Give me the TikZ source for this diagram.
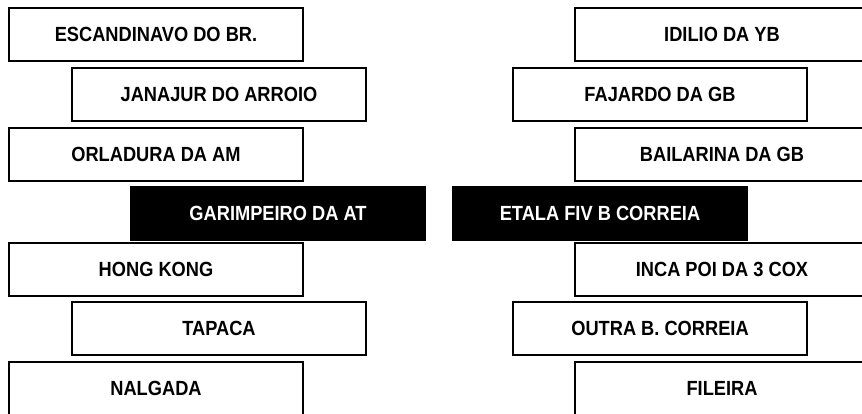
\documentclass[tikz,border=0pt]{standalone}
\usepackage{fontspec}
\setmainfont{Liberation Sans}
\newfontfamily\boxfont[FakeStretch=0.89]{Liberation Sans}
\begin{document}
\begin{tikzpicture}[x=1pt,y=-1pt,
  wbox/.style={draw=black,line width=1.5pt,fill=white,anchor=north west,
    minimum width=294pt,minimum height=53pt,inner sep=0pt,outer sep=0pt,
    font=\boxfont\fontsize{20.5}{23}\selectfont\bfseries,text=black},
  bbox/.style={wbox,fill=black,text=white}]
\useasboundingbox (0,0) rectangle (862,413);
\clip (0,0) rectangle (862,413);
% left column
\node[wbox] (esc) at (9,8) {ESCANDINAVO DO BR.};
\node[wbox] (jan) at (72,68) {JANAJUR DO ARROIO};
\node[wbox] (orl) at (9,128) {ORLADURA DA AM};
\node[bbox] (gar) at (131,187) {GARIMPEIRO DA AT};
\node[wbox] (hong) at (9,243) {HONG KONG};
\node[wbox] (tap) at (72,302) {TAPACA};
\node[wbox] (nal) at (9,362) {NALGADA};
% right column
\node[wbox] (idi) at (575,8) {IDILIO DA YB};
\node[wbox] (faj) at (513,68) {FAJARDO DA GB};
\node[wbox] (bai) at (575,128) {BAILARINA DA GB};
\node[bbox] (eta) at (453,187) {ETALA FIV B CORREIA};
\node[wbox] (inca) at (575,243) {INCA POI DA 3 COX};
\node[wbox] (out) at (513,302) {OUTRA B. CORREIA};
\node[wbox] (fil) at (575,362) {FILEIRA};
\end{tikzpicture}
\end{document}
